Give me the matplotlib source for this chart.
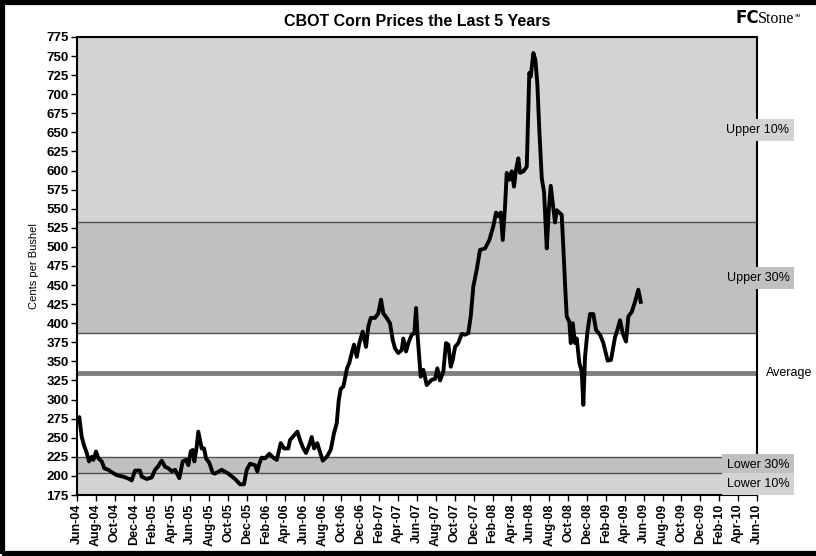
#!/usr/bin/env python3
"""CBOT corn prices, last 5 years, with percentile bands."""
import matplotlib

matplotlib.use("Agg")
import matplotlib.pyplot as plt
import pandas as pd
from matplotlib.patches import Rectangle

plt.rcParams["font.family"] = ["Liberation Sans", "DejaVu Sans"]

# months since Jun-2004 and price in cents per bushel
months = [
    0.0, 0.24, 0.50, 0.74, 1.03, 1.27, 1.56, 1.73, 2.01, 2.26, 2.62, 2.89, 3.31,
    3.67, 4.20, 4.90, 5.54, 5.79, 6.14, 6.67, 6.85, 7.38, 7.91, 8.26, 8.61, 8.97,
    9.32, 9.67, 10.03, 10.38, 10.83, 11.19, 11.54, 11.79, 12.04, 12.25, 12.42,
    12.67, 12.84, 13.02, 13.20, 13.45, 13.66, 14.01, 14.37, 14.61, 15.32, 16.02,
    16.73, 17.26, 17.68, 17.97, 18.32, 18.85, 19.09, 19.30, 19.56, 19.91, 20.36,
    20.79, 21.15, 21.57, 21.92, 22.37, 22.55, 22.90, 23.33, 23.61, 23.96, 24.25,
    24.60, 24.85, 25.10, 25.44, 25.66, 26.02, 26.44, 26.86, 27.21, 27.50, 27.71,
    27.92, 28.20, 28.38, 28.59, 28.83, 29.09, 29.33, 29.62, 29.89, 30.25, 30.60,
    30.85, 31.10, 31.55, 31.90, 32.19, 32.43, 32.79, 33.14, 33.43, 33.67, 34.02,
    34.38, 34.55, 34.84, 35.08, 35.44, 35.72, 35.90, 36.03, 36.25, 36.39, 36.67,
    37.03, 37.56, 37.91, 38.15, 38.44, 38.79, 39.07, 39.32, 39.57, 39.78, 40.03,
    40.37, 40.73, 41.08, 41.43, 41.69, 41.96, 42.32, 42.67, 43.20, 43.66, 44.08,
    44.37, 44.61, 44.86, 45.08, 45.32, 45.50, 45.78, 46.03, 46.27, 46.48, 46.73,
    46.91, 47.26, 47.62, 47.79, 47.89, 48.04, 48.32, 48.53, 48.74, 48.95, 49.21,
    49.45, 49.74, 49.95, 50.16, 50.37, 50.61, 50.79, 51.14, 51.32, 51.49, 51.67,
    51.85, 52.13, 52.28, 52.49, 52.73, 52.91, 53.19, 53.44, 53.61, 53.79, 54.03,
    54.32, 54.67, 54.96, 55.38, 55.73, 56.19, 56.54, 56.97, 57.21, 57.50, 57.78,
    58.13, 58.38, 58.74, 59.08, 59.43, 59.69,
]
price = [
    276, 277, 251, 240, 230, 219, 225, 221, 232, 223, 219, 210, 208,
    205, 201, 199, 196, 194, 207, 207, 199, 196, 198, 208, 213, 220,
    212, 210, 206, 208, 197, 219, 221, 214, 232, 234, 219,
    238, 258, 247, 236, 236, 223, 217, 204, 203, 208, 203,
    196, 189, 189, 208, 216, 214, 206, 216, 224, 223, 229,
    224, 221, 243, 236, 236, 247, 252, 258, 247, 236, 230,
    241, 251, 236, 243, 234, 220, 225, 234, 256, 269, 299,
    314, 317, 328, 341, 348, 361, 372, 356, 374, 389, 369,
    396, 407, 407, 413, 431, 413, 407, 400, 378, 367, 361,
    365, 380, 363, 374, 385, 387, 420, 389, 352, 330, 339,
    319, 326, 327, 341, 325, 337, 374, 372, 343, 352, 369,
    374, 386, 385, 387, 409, 448, 470, 496, 498, 509, 527,
    545, 540, 545, 509, 553, 597, 588, 599, 579, 601, 616,
    597, 599, 605, 684, 728, 723, 754, 745, 714, 653, 590,
    572, 498, 548, 580, 557, 532, 548, 544, 542, 500, 452,
    409, 402, 374, 400, 374, 380, 348, 337, 293, 356, 387,
    412, 412, 391, 385, 374, 351, 352, 382, 391, 404, 387,
    376, 409, 415, 428, 444, 428,
]

# percentile band edges (cents)
band_edges = [175, 204, 225, 387, 533, 775]
band_colors = ["#d3d3d3", "#c0c0c0", "#ffffff", "#c0c0c0", "#d3d3d3"]
average = 335

band_labels = ["Upper 10%", "Upper 30%", "Average", "Lower 30%", "Lower 10%"]
label_values = [653, 459, 335, 214, 189]
label_boxes = ["#d3d3d3", "#c0c0c0", None, "#c0c0c0", "#d3d3d3"]

tick_dates = pd.date_range("2004-06-01", "2010-06-01", freq="2MS")
tick_labels = [d.strftime("%b-%y") for d in tick_dates]
tick_pos = [(d.year - 2004) * 12 + d.month - 6 for d in tick_dates]

fig = plt.figure(figsize=(8.16, 5.56), dpi=100)
ax = fig.add_axes([0.0944, 0.1097, 0.8333, 0.8238])

for lo, hi, c in zip(band_edges[:-1], band_edges[1:], band_colors):
    ax.axhspan(lo, hi, color=c, lw=0, zorder=0)
for v in band_edges[1:-1]:
    ax.axhline(v, color="#505050", lw=1.0, zorder=1)
ax.axhline(average, color="#808080", lw=3.5, zorder=2)

ax.plot(months, price, color="black", lw=2.8, zorder=3, solid_joinstyle="round")

ax.set_xlim(0, 72)
ax.set_ylim(175, 775)
ax.set_yticks(range(175, 776, 25))
ax.set_xticks(tick_pos)
ax.set_xticklabels(tick_labels, rotation=90, fontsize=9, fontweight="bold")
for lbl in ax.get_yticklabels():
    lbl.set_fontsize(9.5)
    lbl.set_fontweight("bold")
ax.tick_params(length=4, width=1, color="black", pad=2)
for s in ax.spines.values():
    s.set_color("black")
    s.set_linewidth(1.5)

ax.set_ylabel("Cents per Bushel", fontsize=8, labelpad=5)
ax.set_title("CBOT Corn Prices the Last 5 Years", fontsize=11.5,
             fontweight="bold", pad=8)

for text, v, bc in zip(band_labels, label_values, label_boxes):
    if bc is None:
        ax.text(72.9, v, text, ha="left", va="center", fontsize=9, clip_on=False)
    else:
        ax.text(72.1, v, text, fontsize=9, va="center", ha="center", zorder=10,
                clip_on=False,
                bbox=dict(facecolor=bc, edgecolor="none", boxstyle="square,pad=0.4"))

# logo: heavy "FC" followed directly by serif "Stone"
fc = fig.text(0.901, 0.968, "FC", fontsize=12, fontweight="heavy", va="center",
              ha="left", family="DejaVu Sans")
fig.canvas.draw()
bb = fc.get_window_extent().transformed(fig.transFigure.inverted())
stone = fig.text(bb.x1 - 0.001, 0.966, "Stone", fontsize=11.5, va="center",
                 ha="left", family="Liberation Serif")
fig.canvas.draw()
bb2 = stone.get_window_extent().transformed(fig.transFigure.inverted())
fig.text(bb2.x1, 0.972, "SM", fontsize=3, va="center", ha="left")

# outer frame
fig.patches.append(Rectangle((0.003, 0.004), 1.2, 0.992, transform=fig.transFigure,
                             fill=False, edgecolor="black", lw=4.5))

fig.savefig("out.png", dpi=100, facecolor="white")
